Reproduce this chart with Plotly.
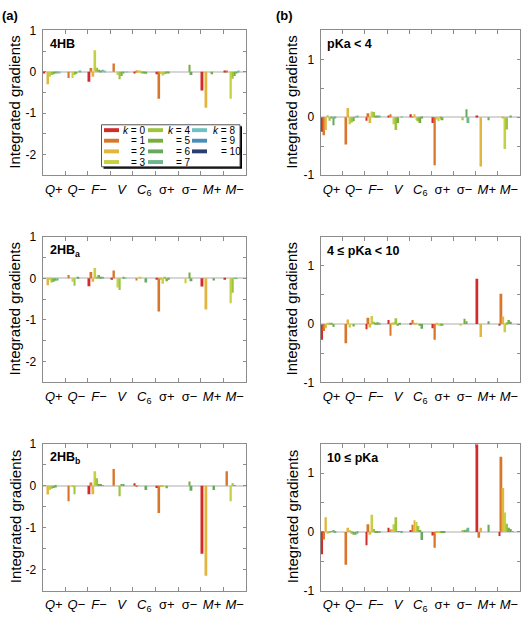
import plotly.graph_objects as go
from plotly.subplots import make_subplots

# ---------------- data ----------------
categories = ["<i>Q</i>+", "<i>Q</i>−", "<i>F</i>−", "<i>V</i>", "<i>C</i><sub>6</sub>",
              "σ+", "σ−", "<i>M</i>+", "<i>M</i>−"]
k_values = list(range(11))
k_colors = ["#d12b2b", "#d8772c", "#e2b53c", "#c6d044", "#9cc43c", "#77ad3e",
            "#69a95e", "#6db78f", "#6fc0c0", "#4a8fb8", "#2a3f6e"]

# each row = one category (Q+ ... M-), 11 values for k = 0..10
ig_4HB = [
    [-0.03, 0.00, -0.30, -0.12, -0.08, -0.06, -0.04, -0.03, -0.02, 0, 0],
    [0.00, -0.15, 0.00, -0.15, -0.08, -0.05, 0.00, 0.01, 0, 0, 0],
    [-0.24, 0.09, -0.12, 0.52, 0.10, 0.05, 0.03, 0.05, 0.02, 0, 0],
    [0.00, 0.20, 0.00, -0.08, -0.18, -0.10, -0.03, 0.00, -0.01, 0, 0],
    [-0.03, 0.02, 0.02, 0.01, -0.02, -0.02, -0.05, 0.00, 0, 0, 0],
    [-0.06, -0.65, -0.05, -0.09, -0.06, -0.03, -0.02, 0.00, 0, 0, 0],
    [0.00, 0.00, 0.00, 0.00, 0.00, 0.17, -0.08, 0.00, 0, 0, 0],
    [-0.45, 0.00, -0.87, 0.00, 0.00, -0.06, 0.00, 0.00, 0, 0, 0],
    [0.02, 0.02, 0.00, -0.65, -0.17, -0.10, -0.03, 0.02, 0, 0, 0],
]
ig_2HBa = [
    [0.00, 0.00, -0.17, -0.03, -0.10, -0.08, -0.06, -0.05, 0, 0, 0],
    [0.00, 0.08, 0.00, -0.08, -0.18, 0.00, 0.03, 0.00, 0, 0, 0],
    [-0.19, 0.15, -0.08, 0.25, 0.02, 0.08, 0.03, 0.02, 0, 0, 0],
    [-0.03, 0.19, 0.00, -0.22, -0.28, 0.00, 0.02, 0.01, 0, 0, 0],
    [0.00, -0.05, 0.00, 0.04, 0.00, 0.00, -0.10, 0.00, 0, 0, 0],
    [-0.03, -0.80, -0.03, -0.13, 0.03, -0.07, -0.03, 0.00, 0, 0, 0],
    [0.00, 0.00, 0.00, -0.12, 0.00, 0.14, -0.07, 0.00, 0, 0, 0],
    [-0.20, 0.00, -0.75, 0.00, 0.00, 0.00, -0.05, 0.00, 0, 0, 0],
    [-0.01, 0.00, 0.00, -0.60, -0.35, 0.01, 0.01, 0.00, 0, 0, 0],
]
ig_2HBb = [
    [0.00, 0.00, -0.21, -0.10, -0.07, -0.05, -0.04, 0.00, 0, 0, 0],
    [0.00, -0.37, 0.00, -0.02, -0.20, 0.00, 0.00, 0.00, 0, 0, 0],
    [-0.20, 0.08, -0.20, 0.35, 0.18, 0.04, 0.03, 0.02, 0, 0, 0],
    [0.00, 0.40, 0.00, 0.00, -0.25, 0.04, 0.04, 0.00, 0, 0, 0],
    [0.06, -0.03, 0.02, 0.00, 0.00, 0.00, -0.10, 0.00, 0, 0, 0],
    [-0.05, -0.65, -0.02, -0.03, 0.00, -0.06, 0.00, 0.00, 0, 0, 0],
    [0.00, 0.00, 0.00, 0.00, 0.00, 0.10, -0.12, 0.00, 0, 0, 0],
    [-1.62, 0.00, -2.15, 0.00, 0.00, 0.00, -0.10, 0.00, 0, 0, 0],
    [0.00, 0.35, 0.00, -0.37, 0.06, 0.02, 0.00, 0.00, 0, 0, 0],
]
ig_pKa_low = [
    [-0.25, -0.31, -0.22, 0.04, -0.06, -0.02, -0.14, -0.01, 0, 0, 0],
    [0.00, -0.47, 0.16, -0.12, -0.09, -0.07, 0.01, 0.02, 0, 0, 0],
    [-0.06, 0.07, -0.10, 0.10, 0.09, 0.02, 0.03, 0.03, 0, 0, 0],
    [0.02, 0.05, 0.00, -0.12, -0.22, -0.10, 0.00, 0.01, 0, 0, 0],
    [0.05, 0.01, 0.05, -0.05, -0.07, -0.10, -0.02, 0.00, 0, 0, 0],
    [-0.10, -0.83, -0.04, -0.07, -0.02, -0.05, 0.00, 0.00, 0, 0, 0],
    [0.00, 0.00, 0.00, 0.00, -0.05, 0.00, 0.14, -0.10, 0, 0, 0],
    [0.03, 0.00, -0.85, 0.00, 0.00, 0.00, -0.05, 0.00, 0, 0, 0],
    [0.00, 0.00, -0.01, -0.55, -0.21, 0.00, 0.03, 0.00, 0, 0, 0],
]
ig_pKa_mid = [
    [-0.27, -0.12, -0.07, 0.01, 0.02, 0.02, -0.05, 0.00, 0, 0, 0],
    [0.00, -0.33, 0.08, -0.06, 0.00, -0.04, 0.00, 0.00, 0, 0, 0],
    [-0.09, 0.11, -0.06, 0.14, 0.04, 0.01, 0.03, 0.01, 0, 0, 0],
    [0.07, -0.20, 0.02, 0.03, 0.10, -0.02, 0.01, 0.00, 0, 0, 0],
    [0.02, 0.07, 0.01, 0.01, 0.00, -0.02, -0.08, 0.00, 0, 0, 0],
    [-0.07, -0.27, 0.02, -0.03, -0.02, -0.02, 0.00, 0.00, 0, 0, 0],
    [0.00, 0.00, 0.00, -0.02, 0.00, 0.09, 0.05, 0.00, 0, 0, 0],
    [0.78, 0.00, -0.22, 0.00, 0.00, 0.00, 0.05, 0.00, 0, 0, 0],
    [-0.03, 0.52, 0.13, -0.14, 0.03, 0.07, 0.04, 0.00, 0, 0, 0],
]
ig_pKa_high = [
    [-0.38, -0.13, 0.25, -0.03, -0.02, 0.01, 0.03, -0.01, 0, 0, 0],
    [0.00, -0.56, 0.07, 0.03, -0.03, -0.05, -0.05, -0.03, 0, 0, 0],
    [-0.23, 0.13, -0.05, 0.29, 0.05, -0.01, -0.02, -0.01, 0, 0, 0],
    [0.07, 0.04, 0.04, 0.13, 0.25, 0.01, 0.01, -0.02, 0, 0, 0],
    [0.03, 0.12, 0.20, 0.17, 0.10, 0.02, -0.14, 0.00, 0, 0, 0],
    [-0.06, -0.27, -0.02, -0.02, -0.01, -0.01, -0.01, 0.00, 0, 0, 0],
    [0.00, 0.00, 0.00, 0.00, 0.02, 0.02, 0.04, 0.07, 0, 0, 0],
    [1.49, -0.10, 0.07, 0.00, 0.00, 0.00, 0.12, 0.00, 0, 0, 0],
    [-0.07, 1.28, 0.75, 0.33, 0.14, 0.07, 0.05, 0.01, 0, 0, 0],
]

panel_titles = ["4HB", "pKa &lt; 4", "2HB<sub>a</sub>", "4 ≤ pKa &lt; 10",
                "2HB<sub>b</sub>", "10 ≤ pKa"]
panels = [ig_4HB, ig_pKa_low, ig_2HBa, ig_pKa_mid, ig_2HBb, ig_pKa_high]
left_ticks = [-2.5, -2, -1.5, -1, -0.5, 0, 0.5, 1]
right_ticks = [-1, -0.5, 0, 0.5, 1, 1.5]

# ---------------- layout helpers ----------------
W, H = 524, 620
FONT = "Liberation Sans, Arial, Helvetica, sans-serif"
AXC = "#8c8c8c"


def px(x):
    return x / W


def py(y):
    return 1 - y / H


col_x = [(42.5, 246), (320.5, 520)]
row_y = [(24, 172), (235, 384), (447, 597)]

fig = make_subplots(rows=3, cols=2)

for p, data in enumerate(panels):
    r, c = p // 2 + 1, p % 2 + 1
    for k in k_values:
        fig.add_trace(go.Bar(
            x=list(range(len(categories))),
            y=[row[k] for row in data],
            marker=dict(color=k_colors[k], line=dict(width=0)),
            showlegend=False, name=f"k = {k}",
        ), row=r, col=c)

for p in range(6):
    r, c = p // 2, p % 2
    ax = "" if p == 0 else str(p + 1)
    x0, x1 = col_x[c]
    y0, y1 = row_y[r]
    ticks = left_ticks if c == 0 else right_ticks
    fig.layout["xaxis" + ax].update(
        domain=[px(x0), px(x1)], range=[-0.5, 8.5],
        tickmode="array", tickvals=list(range(9)), ticktext=categories,
        ticks="", showline=True, linecolor=AXC, linewidth=1, mirror="ticks",
        showgrid=False, zeroline=False,
        minor=dict(tickmode="array", tickvals=[i + 0.5 for i in range(8)],
                   ticks="inside", ticklen=4, tickcolor=AXC, showgrid=False),
        tickfont=dict(size=13, color="black"), ticklabelstandoff=2,
    )
    fig.layout["yaxis" + ax].update(
        domain=[py(y1), py(y0)], range=[ticks[0], ticks[-1]],
        tickmode="array", tickvals=ticks,
        ticktext=[(str(int(t)) if float(t).is_integer() else "") for t in ticks],
        ticks="inside", ticklen=3, tickcolor=AXC, showline=True, linecolor=AXC,
        linewidth=1, mirror="ticks", showgrid=False,
        zeroline=True, zerolinecolor="#d6d6d6", zerolinewidth=2,
        tickfont=dict(size=12, color="black"), ticklabelstandoff=3,
    )
    # panel title
    fig.add_annotation(text="<b>" + panel_titles[p] + "</b>", xref=f"x{ax} domain",
                       yref=f"y{ax} domain", x=0.025, y=0.905, xanchor="left",
                       yanchor="middle", showarrow=False,
                       font=dict(size=12.5, color="black"))
    # y-axis title
    fig.add_annotation(text="Integrated gradients", xref="paper", yref="paper",
                       x=px(15 if c == 0 else 292), y=py((y0 + y1) / 2),
                       textangle=-90, showarrow=False, xanchor="center",
                       yanchor="middle", font=dict(size=15, color="black"))

fig.add_annotation(text="<b>(a)</b>", xref="paper", yref="paper", x=px(0), y=py(9),
                   xanchor="left", yanchor="middle", showarrow=False,
                   font=dict(size=13, color="black"))
fig.add_annotation(text="<b>(b)</b>", xref="paper", yref="paper", x=px(274), y=py(9),
                   xanchor="left", yanchor="middle", showarrow=False,
                   font=dict(size=13, color="black"))

# ---------------- legend (drawn inside the first panel) ----------------
shapes = []
shapes.append(dict(type="rect", xref="paper", yref="paper", x0=px(103.5), x1=px(242),
                   y0=py(165.5), y1=py(122), fillcolor="black", line=dict(width=0)))
shapes.append(dict(type="rect", xref="paper", yref="paper", x0=px(101.5), x1=px(240),
                   y0=py(163.5), y1=py(120.5), fillcolor="white",
                   line=dict(color="#555555", width=1)))
sw_x = [104, 148, 192]
tx_x = [121, 166, 211]
row_c = [126, 136.8, 147.7, 158.6]
for k in k_values:
    ci, ri = k // 4, k % 4
    shapes.append(dict(type="rect", xref="paper", yref="paper",
                       x0=px(sw_x[ci]), x1=px(sw_x[ci] + 15),
                       y0=py(row_c[ri] + 2), y1=py(row_c[ri] - 2),
                       fillcolor=k_colors[k], line=dict(width=0)))
    if ri == 0:
        label, xx = f"<i>k</i> = {k}", tx_x[ci]
    else:
        label, xx = f"= {k}", tx_x[ci] + 7.8
    fig.add_annotation(text=label, xref="paper", yref="paper", x=px(xx),
                       y=py(row_c[ri]), xanchor="left", yanchor="middle",
                       showarrow=False, font=dict(size=10, color="black"))

fig.update_layout(
    width=W, height=H, margin=dict(l=0, r=0, t=0, b=0),
    paper_bgcolor="white", plot_bgcolor="white",
    barmode="group", bargap=0.06, bargroupgap=0,
    font=dict(family=FONT, color="black"),
    showlegend=False, shapes=shapes,
)

fig.write_html("out.html",
               config={"displayModeBar": False},
               post_script="document.body.style.margin='0px';"
                           "document.body.style.overflow='hidden';")
